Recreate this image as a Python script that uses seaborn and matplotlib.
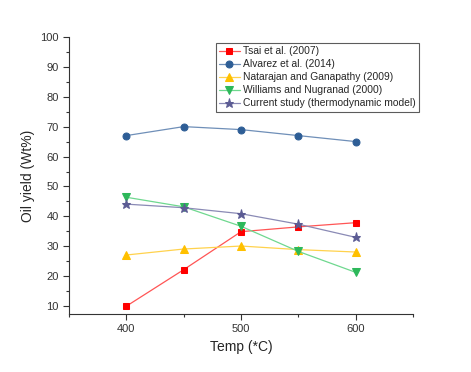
import pandas as pd
import seaborn as sns
import matplotlib.pyplot as plt
from matplotlib.ticker import MultipleLocator

temps = [400, 450, 500, 550, 600]
tsai = [10.0, 22.2, 34.9, 36.5, 37.9]
alvarez = [67.0, 70.0, 69.0, 67.0, 65.0]
natarajan = [27.1, 29.1, 30.1, 28.9, 28.1]
williams = [46.4, 43.2, 36.7, 28.3, 21.3]
current = [44.1, 42.9, 40.9, 37.4, 33.0]

# name, values, marker colour, line colour, marker, size
series = [
    ("Tsai et al. (2007)", tsai, "#FF0000", "#FF5555", "s", 4.5),
    ("Alvarez et al. (2014)", alvarez, "#2E5E96", "#6F8FB8", "o", 5),
    ("Natarajan and Ganapathy (2009)", natarajan, "#FFC000", "#FFD24D", "^", 6),
    ("Williams and Nugranad (2000)", williams, "#2DB85A", "#6FD88F", "v", 6),
    ("Current study (thermodynamic model)", current, "#5C5C94", "#8A8AB5", "*", 6.5),
]

sns.set_style("ticks")
plt.rcParams['font.family'] = ['Liberation Sans', 'DejaVu Sans']

fig = plt.figure(figsize=(4.71, 3.72), dpi=100)
ax = fig.add_axes([0.1465, 0.156, 0.7305, 0.745])

for name, vals, mcol, lcol, mk, ms in series:
    df = pd.DataFrame({"temp": temps, "yield": vals})
    sns.lineplot(data=df, x="temp", y="yield", ax=ax, color=lcol, marker=mk,
                 markersize=ms, markerfacecolor=mcol, markeredgecolor=mcol,
                 linewidth=0.9, label=name)

ax.set_xlim(350, 650)
ax.set_ylim(7.4, 100)
ax.xaxis.set_major_locator(MultipleLocator(100))
ax.xaxis.set_minor_locator(MultipleLocator(50))
ax.yaxis.set_major_locator(MultipleLocator(10))
ax.yaxis.set_minor_locator(MultipleLocator(5))
ax.tick_params(which='major', length=4, width=0.8, labelsize=8, color='#333333',
               labelcolor='#333333')
ax.tick_params(which='minor', length=2.5, width=0.8, color='#333333')
sns.despine(ax=ax)
for s in ['left', 'bottom']:
    ax.spines[s].set_color('#333333')

ax.set_xlabel("Temp (*C)", fontsize=10)
ax.set_ylabel("Oil yield (Wt%)", fontsize=10)

leg = ax.legend(loc='upper right', bbox_to_anchor=(1.022, 0.985), fontsize=7.4,
                frameon=True, fancybox=False, handlelength=2.0, handletextpad=0.3,
                borderpad=0.3, labelspacing=0.3, borderaxespad=0.2)
leg.get_frame().set_edgecolor('#333333')
leg.get_frame().set_linewidth(0.8)

fig.savefig("out.png", dpi=100)
